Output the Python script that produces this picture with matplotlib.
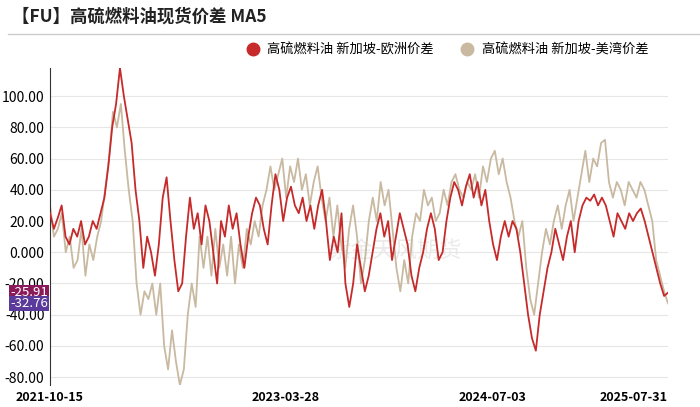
import matplotlib
matplotlib.use("Agg")
import matplotlib.pyplot as plt
import pandas as pd
import numpy as np

plt.rcParams['font.family'] = ['Noto Sans CJK SC', 'DejaVu Sans']

red_vals = [25,15,22,30,10,5,15,10,20,5,10,20,15,25,35,55,80,95,118,100,85,70,40,20,-10,10,0,-15,5,35,48,20,-5,-25,-20,10,35,15,25,5,30,20,0,-20,20,10,30,15,25,5,-10,10,25,35,30,15,5,30,50,40,20,35,42,30,25,35,20,30,15,30,40,20,-5,10,0,25,-20,-35,-20,5,-10,-25,-15,0,15,25,10,20,-5,10,25,15,5,-15,-25,-10,0,15,25,15,-5,0,20,35,45,40,30,42,50,35,45,30,40,20,5,-5,10,20,10,20,15,0,-20,-40,-55,-63,-40,-25,-10,0,15,5,-5,10,20,0,20,30,35,33,37,30,35,30,20,10,25,20,15,25,20,25,28,20,10,0,-10,-20,-28,-25.91]
tan_vals = [30,10,15,25,0,10,-10,-5,15,-15,5,-5,10,20,40,60,90,80,95,65,40,20,-20,-40,-25,-30,-20,-40,-20,-60,-75,-50,-70,-85,-75,-40,-20,-35,10,-10,10,-15,15,-10,5,-15,10,-20,5,-10,15,5,20,10,30,40,55,40,50,60,35,55,45,60,40,50,30,45,55,35,20,35,10,30,5,-10,15,30,10,-20,-5,20,35,20,45,30,40,15,-10,-25,-5,-20,10,25,20,40,30,35,20,25,40,30,45,50,40,35,45,40,50,35,55,45,60,65,50,60,45,35,20,10,20,-10,-30,-40,-20,0,15,5,20,30,15,30,40,20,35,50,65,45,60,55,70,72,45,35,45,40,30,45,40,35,45,40,30,20,-5,-15,-25,-32.76]

start, end = pd.Timestamp("2021-10-15"), pd.Timestamp("2025-07-31")
red_dates = pd.date_range(start, end, periods=len(red_vals))
tan_dates = pd.date_range(start, end, periods=len(tan_vals))

fig = plt.figure(figsize=(7, 4.07), dpi=100)
ax = fig.add_axes([50/700, 1-385/407, 618/700, 317/407])
ax.plot(tan_dates, tan_vals, color='#c8b9a0', lw=1.3, zorder=2)
ax.plot(red_dates, red_vals, color='#c62a2a', lw=1.3, zorder=3)

ax.set_xlim(start, end)
ax.set_ylim(-85, 118)
yt = np.arange(-80, 101, 20)
ax.set_yticks(yt)
ax.set_yticklabels([f"{v:.2f}" if v != 0 else "0.000" for v in yt], fontsize=10)
ax.grid(axis='y', color='#e6e6e6', lw=0.8)
xt = [pd.Timestamp(d) for d in ["2021-10-15", "2023-03-28", "2024-07-03", "2025-07-31"]]
ax.set_xticks(xt)
labs = ax.set_xticklabels([d.strftime("%Y-%m-%d") for d in xt], fontsize=9, fontweight='bold')
labs[-1].set_ha('right')
labs[-1].set_x(0)
for s in ['top', 'right', 'bottom']:
    ax.spines[s].set_visible(False)
ax.spines['left'].set_color('#333333')
ax.tick_params(axis='both', length=0, pad=4)

ax.text(0.45, 0.4, "紫金天风期货", transform=ax.transAxes, fontsize=16, color='#dddddd', alpha=0.6, zorder=1)

for v, c in [(red_vals[-1], '#8a1a5a'), (tan_vals[-1], '#5a3a9a')]:
    ax.text(-0.003, v, f"{v:.2f}", transform=ax.get_yaxis_transform(), ha='right', va='center',
            fontsize=9.5, color='white', bbox=dict(boxstyle='square,pad=0.1', fc=c, ec='none'), zorder=5)

fig.text(12/700, 1-17/407, "【FU】高硫燃料油现货价差 MA5", fontsize=12.5, fontweight='bold', va='center', color='#222222')
fig.add_artist(plt.Line2D([8/700, 1], [1-34/407, 1-34/407], color='#cccccc', lw=1))

fig.legend(handles=[plt.Line2D([], [], marker='o', ls='none', color='#c62a2a', ms=9),
                    plt.Line2D([], [], marker='o', ls='none', color='#c8b9a0', ms=9)],
           labels=["高硫燃料油 新加坡-欧洲价差", "高硫燃料油 新加坡-美湾价差"],
           loc='center right', bbox_to_anchor=(660/700, 1-50/407), ncol=2, frameon=False,
           fontsize=9.5, handletextpad=0.1, columnspacing=1.5)

fig.savefig("out.png", dpi=100)
